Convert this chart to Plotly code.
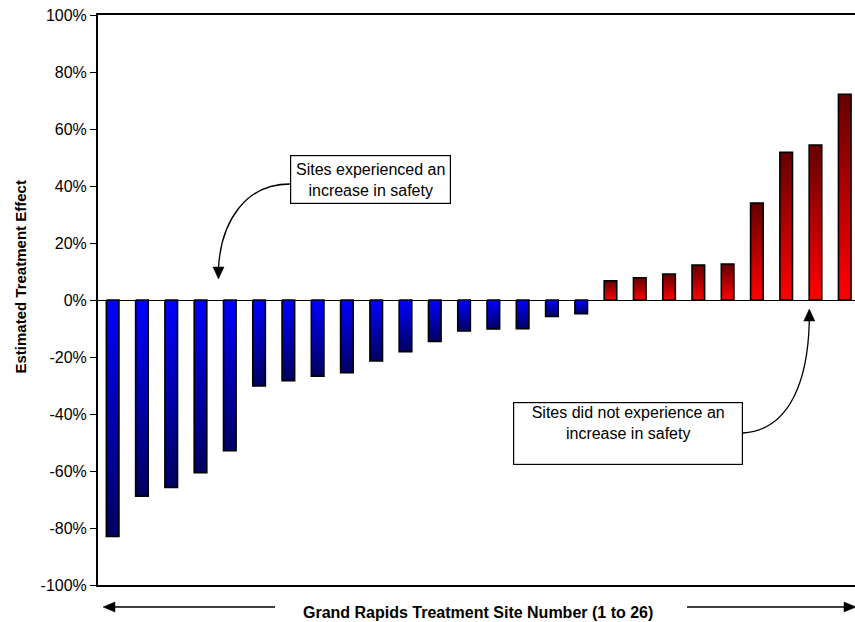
import plotly.graph_objects as go

# Estimated treatment effect (%) for the 26 Grand Rapids treatment sites, sorted
sites = list(range(1, 27))
effect = [-83.0, -68.8, -65.8, -60.6, -52.9, -30.2, -28.3, -26.7, -25.5, -21.4,
          -18.1, -14.5, -10.9, -10.2, -10.1, -5.8, -4.8,
          6.7, 7.8, 9.1, 12.3, 12.6, 34.0, 51.8, 54.4, 72.2]
y_ticks = [-100, -80, -60, -40, -20, 0, 20, 40, 60, 80, 100]
y_tick_text = [f"{v}%" for v in y_ticks]

FONT = "Arial, 'Liberation Sans', sans-serif"
BAR_W = 0.43

# plot area in pixels (used for annotation/connector placement)
W, H = 855, 622
L, R, T, B = 98, 855, 15, 585


def px(x):
    return (x - L) / (R - L)


def py(y):
    return (B - y) / (B - T)


fig = go.Figure()

# each bar is a closed polygon with a vertical two-colour gradient fill
for s, v in zip(sites, effect):
    if v < 0:
        scale = [[0, "#000060"], [1, "#0000FF"]]
    else:
        scale = [[0, "#FF0000"], [1, "#640000"]]
    x0, x1 = s - BAR_W / 2, s + BAR_W / 2
    fig.add_trace(go.Scatter(
        x=[x0, x0, x1, x1, x0], y=[0, v, v, 0, 0],
        mode="lines", fill="toself",
        fillgradient=dict(type="vertical", colorscale=scale),
        line=dict(color="black", width=1.6),
        hoverinfo="text", text=f"Site {s}: {v:.1f}%",
        showlegend=False,
    ))

shapes = []


def path_shape(d, fill=None):
    shp = dict(type="path", xref="paper", yref="paper", path=d,
               line=dict(color="black", width=1.3))
    if fill:
        shp["fillcolor"] = fill
        shp["line"] = dict(color="black", width=0.5)
    return shp


def P(x, y):
    return f"{px(x):.5f},{py(y):.5f}"


# curved connector: box -> negative bars
shapes.append(path_shape(f"M{P(290,184)} C{P(245,184)} {P(221,222)} {P(218.5,268)}"))
shapes.append(path_shape(f"M{P(218.5,279)} L{P(213,267)} L{P(224,267)} Z", fill="black"))
# curved connector: box -> positive bars
shapes.append(path_shape(f"M{P(743,433)} C{P(790,430)} {P(808,380)} {P(809.3,321)}"))
shapes.append(path_shape(f"M{P(809.3,309)} L{P(803.8,321)} L{P(814.8,321)} Z", fill="black"))
# arrows flanking the x-axis title
shapes.append(path_shape(f"M{P(275,607)} L{P(112,607)}"))
shapes.append(path_shape(f"M{P(103,607)} L{P(115,602)} L{P(115,612)} Z", fill="black"))
shapes.append(path_shape(f"M{P(687,607)} L{P(846,607)}"))
shapes.append(path_shape(f"M{P(856,607)} L{P(844,602)} L{P(844,612)} Z", fill="black"))

annotations = [
    dict(text="Sites experienced an<br>increase in safety",
         x=px(370.5), y=py(179.5), xref="paper", yref="paper",
         xanchor="center", yanchor="middle",
         showarrow=False, font=dict(family=FONT, size=16, color="black"),
         bordercolor="black", borderwidth=1.2, bgcolor="white",
         width=157, height=45, borderpad=1, align="center", valign="middle"),
    dict(text="Sites did not experience an<br>increase in safety",
         x=px(628), y=py(433.5), xref="paper", yref="paper",
         xanchor="center", yanchor="middle",
         showarrow=False, font=dict(family=FONT, size=16, color="black"),
         bordercolor="black", borderwidth=1.2, bgcolor="white",
         width=226, height=59, borderpad=1, align="center", valign="top"),
    dict(text="<b>Grand Rapids Treatment Site Number (1 to 26)</b>",
         x=px(478), y=py(612), xref="paper", yref="paper", showarrow=False,
         xanchor="center", yanchor="middle",
         font=dict(family=FONT, size=16, color="black")),
    dict(text="<b>Estimated Treatment Effect</b>",
         x=px(19.5), y=py(277), xref="paper", yref="paper", showarrow=False,
         xanchor="center", yanchor="middle",
         textangle=-90, font=dict(family=FONT, size=15, color="black")),
]

fig.update_layout(
    width=W, height=H,
    margin=dict(l=L, r=W - R, t=T, b=H - B, pad=0),
    plot_bgcolor="white", paper_bgcolor="white",
    showlegend=False,
    shapes=shapes, annotations=annotations,
    xaxis=dict(range=[0.5, 26.35], showgrid=False, zeroline=False,
               showticklabels=False, ticks="",
               showline=True, linecolor="black", linewidth=2, mirror=True),
    yaxis=dict(range=[-100, 100], tickmode="array", tickvals=y_ticks,
               ticktext=y_tick_text,
               showgrid=False, zeroline=True, zerolinecolor="black",
               zerolinewidth=1, ticks="outside", ticklen=6, tickwidth=1,
               tickcolor="black", showline=True, linecolor="black",
               linewidth=2, tickfont=dict(family=FONT, size=16, color="black")),
)

fig.write_html("out.html")
